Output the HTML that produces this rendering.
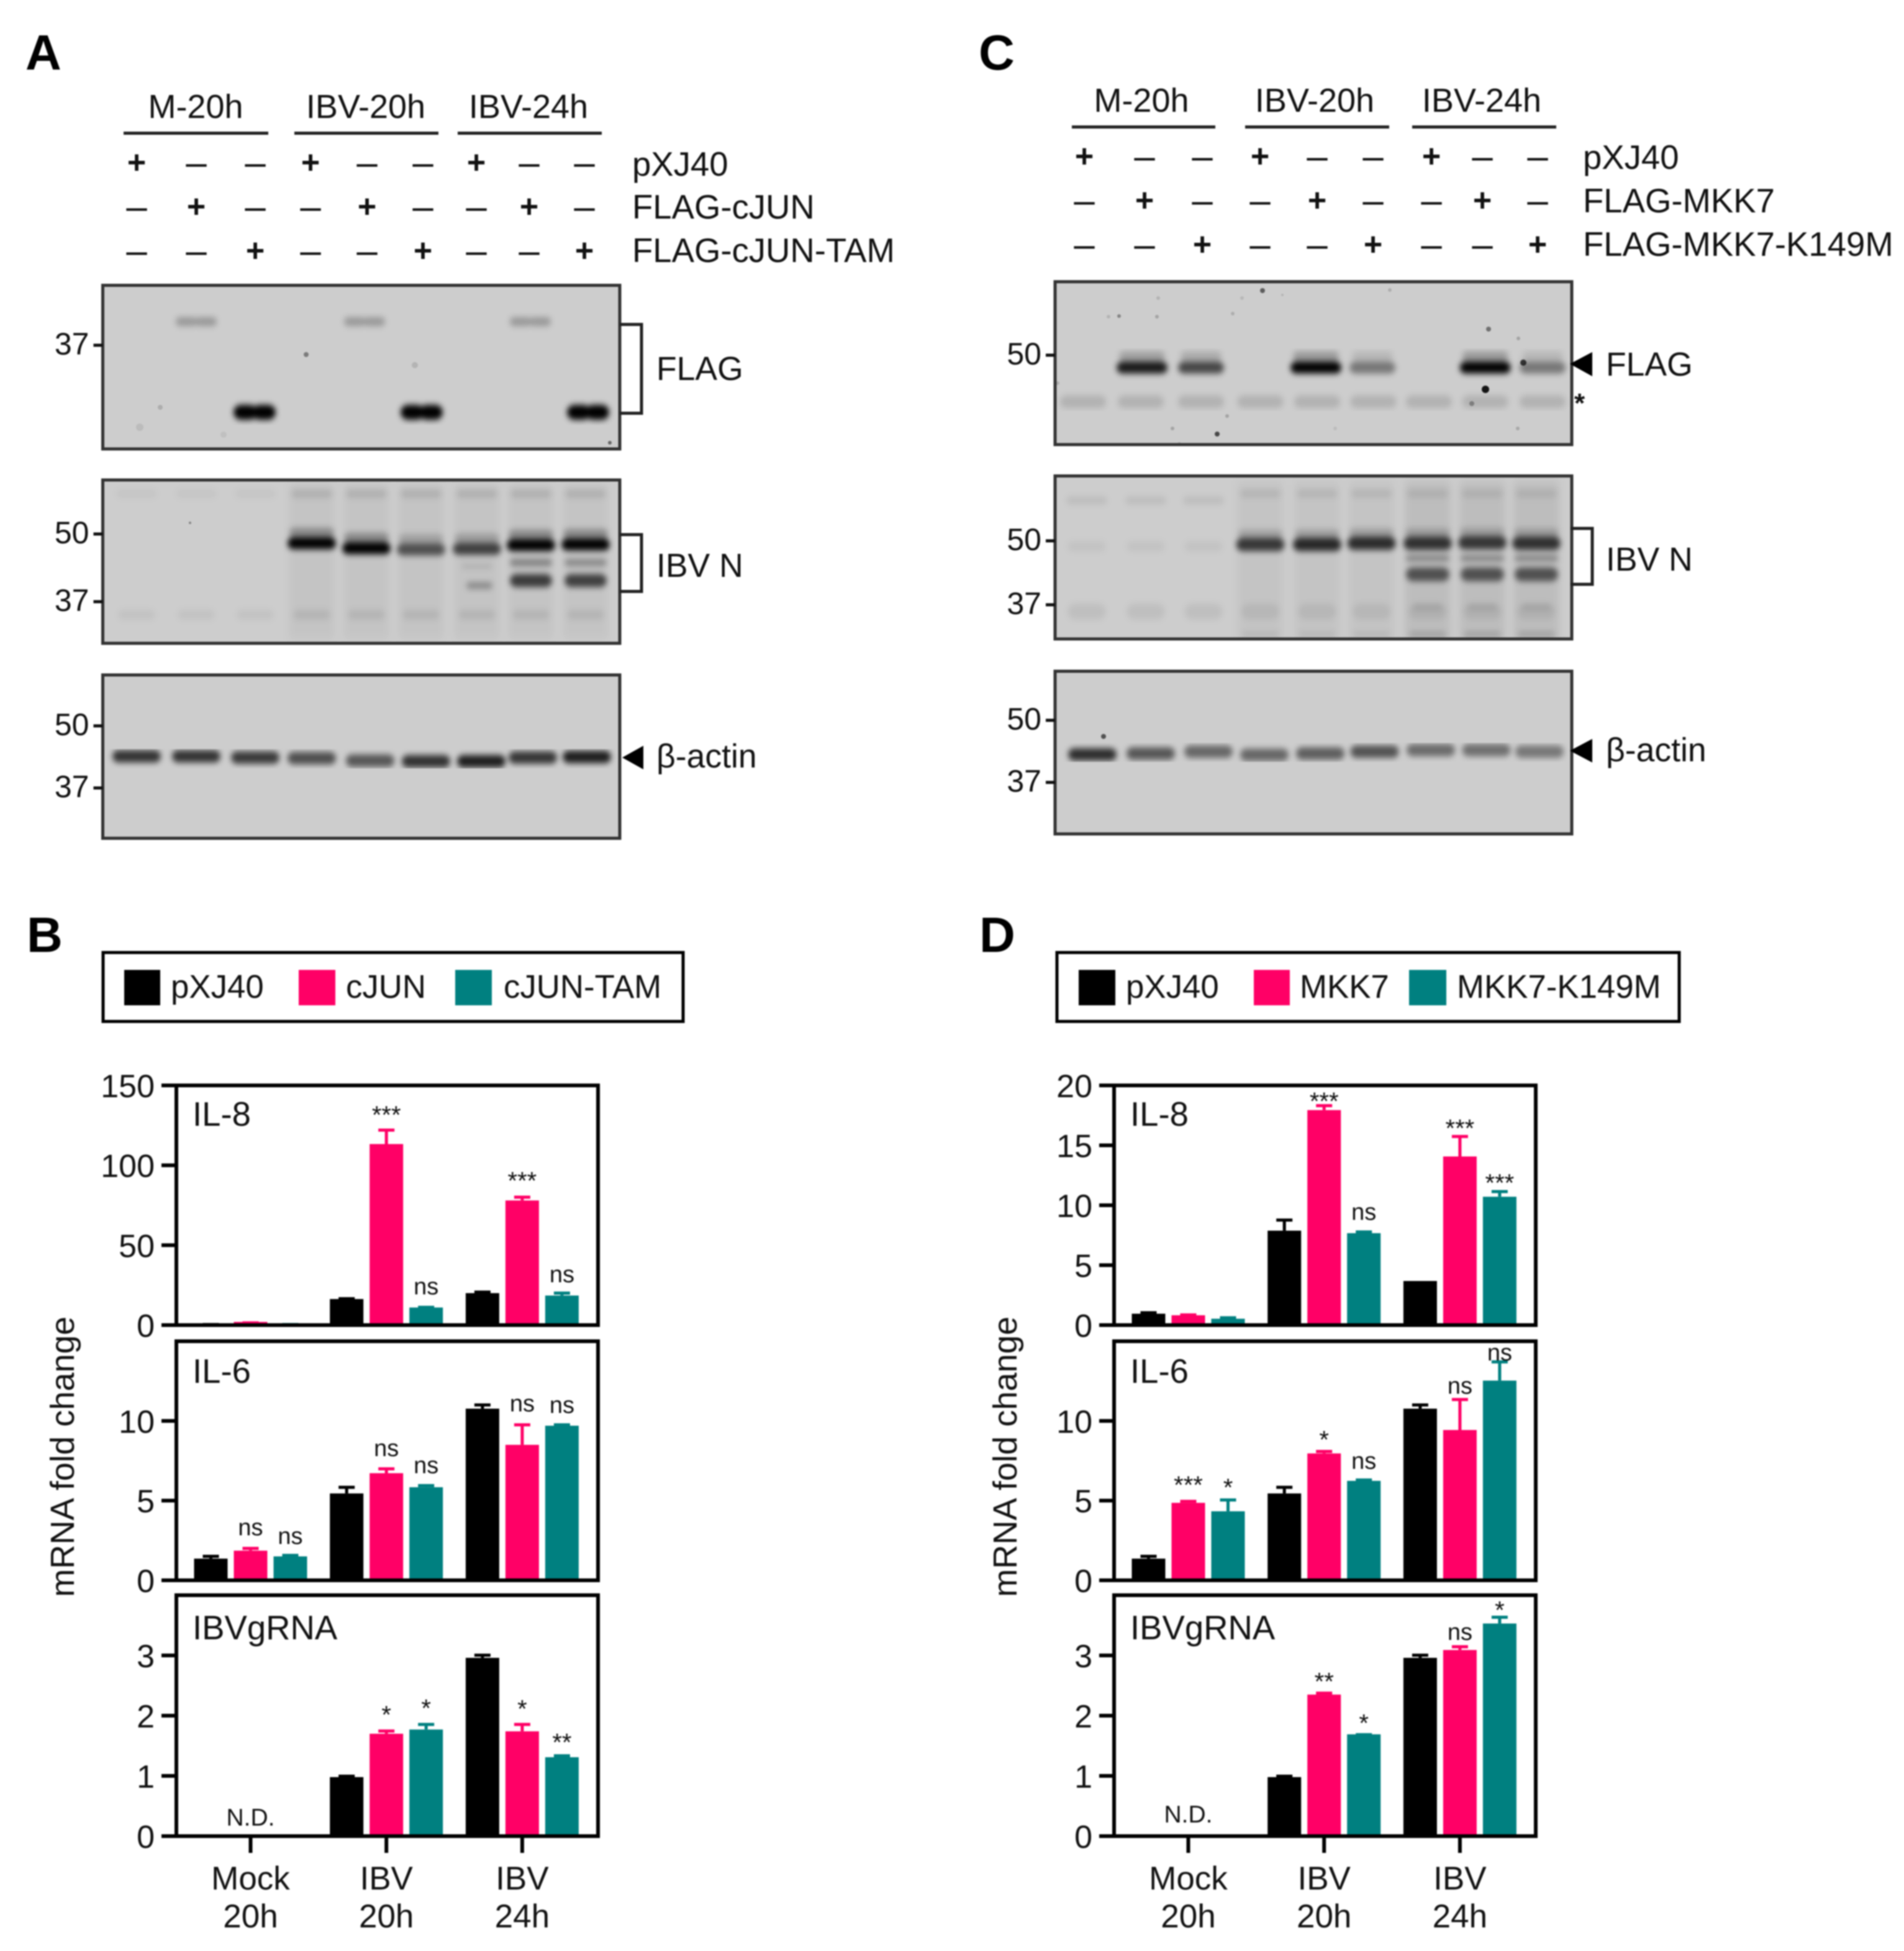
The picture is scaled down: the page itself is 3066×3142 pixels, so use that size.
<!DOCTYPE html>
<html lang="en">
<head>
<meta charset="utf-8">
<title>Western blots and mRNA fold change for cJUN and MKK7 constructs</title>
<style>
html,body{margin:0;padding:0;background:#fff;}
body{width:3066px;height:3142px;overflow:hidden;}
#figure{display:block;filter:blur(1px);}
text{font-family:"Liberation Sans",Arial,sans-serif;fill:#111;}
</style>
</head>
<body>
<svg id="figure" xmlns="http://www.w3.org/2000/svg" width="3066" height="3142" viewBox="0 0 3066 3142">
<defs>
<filter id="bandBlur" x="-5%" y="-5%" width="110%" height="110%"><feGaussianBlur stdDeviation="4.5 5"/></filter>
<filter id="smearBlur" x="-5%" y="-5%" width="110%" height="110%"><feGaussianBlur stdDeviation="6 9"/></filter>
</defs>
<rect width="3066" height="3142" fill="#fff"/>

<text x="41" y="112" font-size="80" font-weight="bold" style="fill:#000">A</text>
<text x="43" y="1533" font-size="80" font-weight="bold" style="fill:#000">B</text>
<text x="1576" y="112" font-size="80" font-weight="bold" style="fill:#000">C</text>
<text x="1577" y="1533" font-size="80" font-weight="bold" style="fill:#000">D</text>

<g font-size="54">
<text x="315" y="190" text-anchor="middle">M-20h</text>
<text x="589" y="190" text-anchor="middle">IBV-20h</text>
<text x="851" y="190" text-anchor="middle">IBV-24h</text>
<rect x="199" y="212" width="233" height="5" fill="#222"/>
<rect x="474" y="212" width="232" height="5" fill="#222"/>
<rect x="737" y="212" width="232" height="5" fill="#222"/>
<g font-size="54.5">
<text x="1018" y="283">pXJ40</text>
<text x="1018" y="352">FLAG-cJUN</text>
<text x="1018" y="422">FLAG-cJUN-TAM</text>
</g>
</g>
<g font-size="54">
<text x="1838" y="180" text-anchor="middle">M-20h</text>
<text x="2117" y="180" text-anchor="middle">IBV-20h</text>
<text x="2386" y="180" text-anchor="middle">IBV-24h</text>
<rect x="1726" y="202" width="231" height="5" fill="#222"/>
<rect x="2005" y="202" width="232" height="5" fill="#222"/>
<rect x="2274" y="202" width="232" height="5" fill="#222"/>
<g font-size="54.5">
<text x="2549" y="272">pXJ40</text>
<text x="2549" y="342">FLAG-MKK7</text>
<text x="2549" y="412">FLAG-MKK7-K149M</text>
</g>
</g>

<g id="blots"></g>

<g font-size="53.5">
<path d="M998 522.5H1033V665.5H998" fill="none" stroke="#222" stroke-width="5"/>
<text x="1057" y="612">FLAG</text>
<path d="M998 861H1033V952.5H998" fill="none" stroke="#222" stroke-width="5"/>
<text x="1057" y="929">IBV N</text>
<polygon points="1002,1220 1036,1201 1036,1239" fill="#000"/>
<text x="1057" y="1236">β-actin</text>
</g>
<g font-size="53.5">
<polygon points="2528,586 2564,567 2564,606" fill="#000"/>
<text x="2586" y="605">FLAG</text>
<text x="2535" y="664" font-size="44" font-weight="bold">*</text>
<path d="M2529 851H2564V941H2529" fill="none" stroke="#222" stroke-width="5"/>
<text x="2586" y="919">IBV N</text>
<polygon points="2528,1209 2564,1190 2564,1228" fill="#000"/>
<text x="2586" y="1226">β-actin</text>
</g>

<g font-size="52.8">
<rect x="166" y="1534" width="934" height="111" fill="#fff" stroke="#000" stroke-width="5"/>
<rect x="200" y="1562" width="58" height="57" fill="#000"/>
<text x="275" y="1607">pXJ40</text>
<rect x="481" y="1562" width="59" height="57" fill="#ff0066"/>
<text x="557" y="1607">cJUN</text>
<rect x="733" y="1562" width="59" height="57" fill="#008080"/>
<text x="811" y="1607">cJUN-TAM</text>
</g>
<g font-size="52.8">
<rect x="1702" y="1534" width="1002" height="111" fill="#fff" stroke="#000" stroke-width="5"/>
<rect x="1737" y="1562" width="59" height="57" fill="#000"/>
<text x="1813" y="1607">pXJ40</text>
<rect x="2019" y="1562" width="58" height="57" fill="#ff0066"/>
<text x="2093" y="1607">MKK7</text>
<rect x="2269" y="1562" width="60" height="57" fill="#008080"/>
<text x="2346" y="1607">MKK7-K149M</text>
</g>

<text transform="translate(119 2346) rotate(-90)" font-size="54.2" text-anchor="middle">mRNA fold change</text>
<text transform="translate(1637 2346) rotate(-90)" font-size="54.2" text-anchor="middle">mRNA fold change</text>

<g id="charts"></g>
</svg>

<script>
// ---------- chart categories and ticks ----------
const xLine1 = ['Mock', 'IBV', 'IBV'];
const xLine2 = ['20h', '20h', '24h'];
const seriesColors = ['#000000', '#ff0066', '#008080'];
const ticksIl8B = [0, 50, 100, 150];
const ticksIl8D = [0, 5, 10, 15, 20];
const ticksIl6 = [0, 5, 10];
const ticksGrna = [0, 1, 2, 3];
const mockNote = 'N.D.';

// ---------- panel B, IL-8 ----------
const bIl8Pxj40 = [1, 16.3, 20];
const bIl8Pxj40Err = [1.3, 17.5, 21.6];
const bIl8Cjun = [2, 113.3, 78];
const bIl8CjunErr = [2.4, 123, 81];
const bIl8Tam = [1, 11, 18.5];
const bIl8TamErr = [1.3, 12.1, 21];
const bIl8CjunNote = ['', '***', '***'];
const bIl8CjunNoteAt = [0, 131.7, 90.6];
const bIl8TamNote = ['', 'ns', 'ns'];
const bIl8TamNoteAt = [0, 19.2, 26.8];

// ---------- panel B, IL-6 ----------
const bIl6Pxj40 = [1.36, 5.45, 10.77];
const bIl6Pxj40Err = [1.6, 5.93, 11.1];
const bIl6Cjun = [1.86, 6.72, 8.5];
const bIl6CjunErr = [2.1, 7.09, 9.85];
const bIl6Tam = [1.5, 5.84, 9.7];
const bIl6TamErr = [1.66, 6.04, 9.85];
const bIl6CjunNote = ['ns', 'ns', 'ns'];
const bIl6CjunNoteAt = [2.82, 7.8, 10.6];
const bIl6TamNote = ['ns', 'ns', 'ns'];
const bIl6TamNoteAt = [2.27, 6.72, 10.5];

// ---------- panel B, IBV gRNA ----------
const bGrnaPxj40 = [0, 0.98, 2.96];
const bGrnaPxj40Err = [0, 1.02, 3.03];
const bGrnaCjun = [0, 1.7, 1.74];
const bGrnaCjunErr = [0, 1.77, 1.88];
const bGrnaTam = [0, 1.77, 1.31];
const bGrnaTamErr = [0, 1.88, 1.36];
const bGrnaCjunNote = ['', '*', '*'];
const bGrnaCjunNoteAt = [0, 2.02, 2.12];
const bGrnaTamNote = ['', '*', '**'];
const bGrnaTamNoteAt = [0, 2.13, 1.56];

// ---------- panel D, IL-8 ----------
const dIl8Pxj40 = [0.95, 7.88, 3.68];
const dIl8Pxj40Err = [1.16, 8.89, 3.68];
const dIl8Mkk7 = [0.82, 17.94, 14.07];
const dIl8Mkk7Err = [0.98, 18.44, 15.87];
const dIl8Kin = [0.53, 7.67, 10.71];
const dIl8KinErr = [0.74, 7.9, 11.27];
const dIl8Mkk7Note = ['', '***', '***'];
const dIl8Mkk7NoteAt = [0, 18.7, 16.45];
const dIl8KinNote = ['', 'ns', '***'];
const dIl8KinNoteAt = [0, 8.78, 11.9];

// ---------- panel D, IL-6 ----------
const dIl6Pxj40 = [1.36, 5.45, 10.77];
const dIl6Pxj40Err = [1.6, 5.93, 11.1];
const dIl6Mkk7 = [4.86, 7.96, 9.43];
const dIl6Mkk7Err = [5.05, 8.18, 11.44];
const dIl6Kin = [4.33, 6.24, 12.53];
const dIl6KinErr = [5.14, 6.39, 13.8];
const dIl6Mkk7Note = ['***', '*', 'ns'];
const dIl6Mkk7NoteAt = [6, 8.84, 11.7];
const dIl6KinNote = ['*', 'ns', 'ns'];
const dIl6KinNoteAt = [5.84, 7, 13.8];

// ---------- panel D, IBV gRNA ----------
const dGrnaPxj40 = [0, 0.98, 2.96];
const dGrnaPxj40Err = [0, 1.02, 3.03];
const dGrnaMkk7 = [0, 2.35, 3.09];
const dGrnaMkk7Err = [0, 2.4, 3.17];
const dGrnaKin = [0, 1.69, 3.53];
const dGrnaKinErr = [0, 1.71, 3.66];
const dGrnaMkk7Note = ['', '**', 'ns'];
const dGrnaMkk7NoteAt = [0, 2.57, 3.26];
const dGrnaKinNote = ['', '*', '*'];
const dGrnaKinNoteAt = [0, 1.88, 3.76];

const NS = 'http://www.w3.org/2000/svg';
function make(tag, parent, props) {
  const e = document.createElementNS(NS, tag);
  for (const k in props) e.setAttribute(k, props[k]);
  parent.appendChild(e);
  return e;
}

// ---------- bar charts ----------
function drawPanel(root, cfg) {
  const left = cfg.left, right = cfg.left + 679;
  const yAxis = function (v) { return cfg.bottom - v / cfg.max * (cfg.bottom - cfg.top); };
  const xAxis = function (g, s) { return cfg.left + 119.5 + g * 218.7 + (s - 1) * 64; };
  const g = make('g', root, {});
  
  

  cfg.series.forEach(function (vals, s) {
    vals.forEach(function (v, i) {
      if (v <= 0) return;
      const cx = xAxis(i, s);
      const errTop = yAxis(cfg.errs[s][i]) + 2.5;
      const line = make('path', g, { d: 'M' + cx + ' ' + yAxis(v) + 'V' + errTop + 'M' + (cx - 13) + ' ' + errTop + 'H' + (cx + 13), stroke: seriesColors[s], 'stroke-width': 5, fill: 'none' });
      
      
      const bar = make('rect', g, { x: cx - 27, y: yAxis(v), width: 54, height: cfg.bottom - yAxis(v), fill: seriesColors[s] });
      
      
    });
  });

  const frame = make('rect', g, { x: left, y: cfg.top, width: right - left, height: cfg.bottom - cfg.top, fill: 'none', stroke: '#000', 'stroke-width': 6 });
  
  

  cfg.ticks.forEach(function (t) {
    const y = yAxis(t);
    const tick = make('rect', g, { x: left - 24, y: y - 3, width: 24, height: 6, fill: '#000' });
    
    
    const lab = make('text', g, { x: left - 35, y: y + 19, 'font-size': 52, 'text-anchor': 'end' });
    
    
    lab.textContent = t;
  });

  const title = make('text', g, { x: left + 26, y: cfg.titleY, 'font-size': 54.5 });
  
  
  title.textContent = cfg.title;

  [1, 2].forEach(function (s) {
    cfg.notes[s - 1].forEach(function (txt, i) {
      if (!txt) return;
      const at = yAxis(cfg.noteAt[s - 1][i]);
      const isNs = txt === 'ns';
      const n = make('text', g, { x: xAxis(i, s), y: isNs ? at : at + 14, 'font-size': isNs ? 38 : 40, 'text-anchor': 'middle' });
      
      
      n.textContent = txt;
    });
  });

  if (cfg.bottomPanel) {
    xLine1.forEach(function (txt, i) {
      const cx = xAxis(i, 1);
      const tick = make('rect', g, { x: cx - 3, y: cfg.bottom, width: 6, height: 27, fill: '#000' });
      
      
      const a = make('text', g, { x: cx, y: 3043, 'font-size': 53, 'text-anchor': 'middle' });
      
      
      a.textContent = txt;
      const b = make('text', g, { x: cx, y: 3104, 'font-size': 53, 'text-anchor': 'middle' });
      
      
      b.textContent = xLine2[i];
    });
    const nd = make('text', g, { x: xAxis(0, 1), y: cfg.noteY, 'font-size': 39, 'text-anchor': 'middle' });
    
    
    nd.textContent = mockNote;
  }
}

const charts = document.getElementById('charts');
drawPanel(charts, { name: 'b-il8', title: 'IL-8', left: 284, top: 1748, bottom: 2134, max: 150, ticks: ticksIl8B, titleY: 1813,
  series: [bIl8Pxj40, bIl8Cjun, bIl8Tam], errs: [bIl8Pxj40Err, bIl8CjunErr, bIl8TamErr], notes: [bIl8CjunNote, bIl8TamNote], noteAt: [bIl8CjunNoteAt, bIl8TamNoteAt] });
drawPanel(charts, { name: 'b-il6', title: 'IL-6', left: 284, top: 2160, bottom: 2545, max: 15, ticks: ticksIl6, titleY: 2227,
  series: [bIl6Pxj40, bIl6Cjun, bIl6Tam], errs: [bIl6Pxj40Err, bIl6CjunErr, bIl6TamErr], notes: [bIl6CjunNote, bIl6TamNote], noteAt: [bIl6CjunNoteAt, bIl6TamNoteAt] });
drawPanel(charts, { name: 'b-grna', title: 'IBVgRNA', left: 284, top: 2569, bottom: 2957, max: 4, ticks: ticksGrna, titleY: 2640, bottomPanel: true, noteY: 2940,
  series: [bGrnaPxj40, bGrnaCjun, bGrnaTam], errs: [bGrnaPxj40Err, bGrnaCjunErr, bGrnaTamErr], notes: [bGrnaCjunNote, bGrnaTamNote], noteAt: [bGrnaCjunNoteAt, bGrnaTamNoteAt] });
drawPanel(charts, { name: 'd-il8', title: 'IL-8', left: 1794, top: 1748, bottom: 2134, max: 20, ticks: ticksIl8D, titleY: 1813,
  series: [dIl8Pxj40, dIl8Mkk7, dIl8Kin], errs: [dIl8Pxj40Err, dIl8Mkk7Err, dIl8KinErr], notes: [dIl8Mkk7Note, dIl8KinNote], noteAt: [dIl8Mkk7NoteAt, dIl8KinNoteAt] });
drawPanel(charts, { name: 'd-il6', title: 'IL-6', left: 1794, top: 2160, bottom: 2545, max: 15, ticks: ticksIl6, titleY: 2227,
  series: [dIl6Pxj40, dIl6Mkk7, dIl6Kin], errs: [dIl6Pxj40Err, dIl6Mkk7Err, dIl6KinErr], notes: [dIl6Mkk7Note, dIl6KinNote], noteAt: [dIl6Mkk7NoteAt, dIl6KinNoteAt] });
drawPanel(charts, { name: 'd-grna', title: 'IBVgRNA', left: 1794, top: 2569, bottom: 2957, max: 4, ticks: ticksGrna, titleY: 2640, bottomPanel: true, noteY: 2935,
  series: [dGrnaPxj40, dGrnaMkk7, dGrnaKin], errs: [dGrnaPxj40Err, dGrnaMkk7Err, dGrnaKinErr], notes: [dGrnaMkk7Note, dGrnaKinNote], noteAt: [dGrnaMkk7NoteAt, dGrnaKinNoteAt] });

// ---------- western blots ----------
function drawBlots() {
  const root = document.getElementById('blots');

  function blot(name, x0, y0, x1, y1, ticks) {
    const w = x1 - x0, h = y1 - y0;
    const g = make('g', root, {});
    
    
    const clip = make('svg', g, { x: x0, y: y0, width: w, height: h, viewBox: x0 + ' ' + y0 + ' ' + w + ' ' + h });
    const bg = make('rect', clip, { x: x0, y: y0, width: w, height: h, fill: '#cdcdcd' });
    
    
    const smears = make('g', clip, { filter: 'url(#smearBlur)' });
    const bands = make('g', clip, { filter: 'url(#bandBlur)' });
    const specks = make('g', clip, {});
    const frame = make('rect', g, { x: x0, y: y0, width: w, height: h, fill: 'none', stroke: '#333', 'stroke-width': 5 });
    
    
    ticks.forEach(function (t) {
      const dash = make('rect', g, { x: x0 - 15, y: t.y - 2.5, width: 15, height: 5, fill: '#111' });
      
      
      const lab = make('text', g, { x: x0 - 22, y: t.y + 15, 'font-size': 50, 'text-anchor': 'end' });
      
      
      lab.textContent = t.label;
    });
    return {
      band: function (cx, cy, bw, bh, op) {
        const r = make('rect', bands, { x: cx - bw / 2, y: cy - bh / 2, width: bw, height: bh, rx: bh / 2, fill: '#000', opacity: op });
        
        
      },
      smear: function (cx, cy, bw, bh, op) {
        const r = make('rect', smears, { x: cx - bw / 2, y: cy - bh / 2, width: bw, height: bh, fill: '#000', opacity: op });
        
        
      },
      speck: function (cx, cy, r0, op) {
        const c = make('circle', specks, { cx: cx, cy: cy, r: r0, fill: '#000', opacity: op });
        
        
      }
    };
  }

  function signs(name, lanes, rows) {
    const g = make('g', root, {});
    
    
    rows.forEach(function (y, r) {
      lanes.forEach(function (x, l) {
        const plus = l % 3 === r;
        const t = make('text', g, { x: x, y: y + (plus ? 17 : 20), 'font-size': plus ? 52 : 60, 'font-weight': plus ? 'bold' : 'normal', 'text-anchor': 'middle' });
        
        
        t.textContent = plus ? '+' : '–';
      });
    });
  }

  signs('a', [220, 316, 411, 500, 591, 681, 767, 852, 941], [262, 333, 404]);
  signs('c', [1746, 1843, 1936, 2029, 2121, 2211, 2305, 2387, 2476], [252, 323, 394]);

  // Panel A, FLAG
  const aFlag = blot('a-flag', 165.5, 459.5, 998, 723, [{ y: 556, label: '37' }]);
  [316, 587, 854].forEach(function (x) {
    aFlag.band(x - 16, 518, 34, 14, 0.26);
    aFlag.band(x + 16, 518, 34, 14, 0.26);
  });
  [410, 679, 947].forEach(function (x) {
    aFlag.band(x - 15, 664, 38, 24, 1);
    aFlag.band(x + 15, 664, 38, 24, 1);
  });
  aFlag.speck(493, 571, 4, 0.4);
  aFlag.speck(258, 656, 4, 0.15);
  aFlag.speck(668, 588, 5, 0.12);
  aFlag.speck(982, 713, 3, 0.5);
  aFlag.speck(225, 688, 6, 0.08);
  aFlag.speck(360, 700, 5, 0.06);

  // Panel A, IBV N
  const aN = blot('a-ibv-n', 165.5, 773, 998, 1036, [{ y: 860, label: '50' }, { y: 969, label: '37' }]);
  const aNx = [220, 316, 411, 502, 590, 678, 768, 855, 943];
  aNx.forEach(function (x, i) {
    if (i >= 3) aN.smear(x, 905, 74, 250, 0.045);
    aN.band(x, 795, 66, 14, i >= 3 ? 0.1 : 0.04);
    aN.band(x, 990, 60, 16, i >= 3 ? 0.08 : 0.05);
  });
  const aNmainY = [875, 883, 885, 884, 878, 877];
  const aNmainOp = [1, 1, 0.6, 0.68, 1, 1];
  aNmainY.forEach(function (y, i) {
    const x = aNx[i + 3];
    aN.band(x, y, 78, 19, aNmainOp[i]);
    aN.band(x, y - 17, 72, 16, aNmainOp[i] * 0.3);
  });
  aN.band(855, 906, 68, 11, 0.36);
  aN.band(943, 906, 68, 11, 0.32);
  aN.band(768, 912, 50, 8, 0.1);
  aN.band(855, 935, 68, 21, 0.7);
  aN.band(943, 935, 68, 21, 0.68);
  aN.band(772, 943, 42, 11, 0.3);
  aN.speck(306, 842, 2, 0.35);

  // Panel A, beta-actin
  const aA = blot('a-actin', 165.5, 1087, 998, 1350, [{ y: 1169, label: '50' }, { y: 1269, label: '37' }]);
  const aAx = [220, 316, 411, 502, 596, 686, 775, 858, 945];
  const aAy = [1218, 1218, 1220, 1221, 1225, 1226, 1226, 1220, 1219];
  const aAop = [0.75, 0.75, 0.72, 0.62, 0.58, 0.76, 0.86, 0.74, 0.86];
  aAx.forEach(function (x, i) { aA.band(x, aAy[i], 78, 20, aAop[i]); });

  // Panel C, FLAG
  const cFlag = blot('c-flag', 1699, 453.7, 2531, 716, [{ y: 572, label: '50' }]);
  const cFlagLower = [1744, 1837, 1934, 2029.5, 2121, 2211.5, 2301, 2391.6, 2484];
  cFlagLower.forEach(function (x) { cFlag.band(x, 647, 74, 20, 0.13); });
  const cMainX = [1839, 1934, 2119, 2210, 2391.6, 2484];
  const cMainOp = [0.88, 0.66, 1, 0.42, 1, 0.42];
  cMainX.forEach(function (x, i) {
    const bw = i % 2 === 0 ? 82 : 74;
    cFlag.band(x, 592, bw, 19, cMainOp[i]);
    cFlag.band(x, 574, bw - 8, 16, cMainOp[i] * 0.25);
  });
  const cSpecks = [[1802, 509, 3, 0.35], [2033, 468, 4, 0.55], [1863, 510, 3, 0.2], [2392, 627, 6, 0.9], [2397, 530, 4, 0.45], [2453, 584, 5, 0.7], [1960, 699, 4, 0.65], [2370, 650, 4, 0.3], [1888, 690, 3, 0.2], [1899, 715, 3, 0.15], [1976, 670, 3, 0.2], [2444, 690, 3, 0.18], [2445, 545, 3, 0.2], [1703, 617, 3, 0.15], [1785, 510, 3, 0.12], [2238, 467, 3, 0.15], [1865, 480, 3, 0.12], [2000, 480, 3, 0.1], [1985, 505, 3, 0.15], [2065, 475, 2, 0.12], [2150, 690, 3, 0.08]];
  cSpecks.forEach(function (p) { cFlag.speck(p[0], p[1], p[2], p[3]); });

  // Panel C, IBV N
  const cN = blot('c-ibv-n', 1699, 766.5, 2531, 1029, [{ y: 871, label: '50' }, { y: 974, label: '37' }]);
  const cNx = [1750, 1845, 1938, 2029.5, 2121, 2208.6, 2299, 2387, 2474];
  cNx.forEach(function (x, i) {
    if (i >= 3) cN.smear(x, 905, 74, 260, i >= 6 ? 0.08 : 0.045);
    cN.band(x, i < 3 ? 806 : 795, 66, 13, i < 3 ? 0.08 : 0.08);
    cN.band(x, 985, 62, 26, 0.065);
    if (i >= 3) cN.band(x, 1022, 60, 9, i >= 6 ? 0.17 : 0.08);
    if (i < 3) cN.band(x, 880, 62, 16, 0.05);
  });
  const cNy = [877, 877, 875, 875, 874, 875];
  const cNop = [0.72, 0.8, 0.78, 0.75, 0.72, 0.75];
  cNy.forEach(function (y, i) {
    const x = cNx[i + 3];
    cN.band(x, y, 78, 21, cNop[i]);
    cN.band(x, y - 17, 72, 14, cNop[i] * 0.25);
  });
  [2299, 2387, 2474].forEach(function (x) {
    cN.band(x, 899, 70, 7, 0.4);
    cN.band(x, 925, 70, 22, 0.58);
    cN.band(x, 978, 46, 8, 0.1);
  });

  // Panel C, beta-actin
  const cA = blot('c-actin', 1699, 1081, 2531, 1343, [{ y: 1160, label: '50' }, { y: 1260, label: '37' }]);
  const cAx = [1759, 1853, 1946, 2036, 2126, 2213.5, 2304, 2393.5, 2479];
  const cAy = [1215, 1213.5, 1210.5, 1215.6, 1213.5, 1210.5, 1208, 1208, 1210.5];
  const cAop = [0.78, 0.58, 0.5, 0.5, 0.54, 0.6, 0.48, 0.46, 0.42];
  cAx.forEach(function (x, i) { cA.band(x, cAy[i], 78, 20, cAop[i]); });
  cA.speck(1777, 1186, 4, 0.6);
}
drawBlots();
</script>
</body>
</html>
